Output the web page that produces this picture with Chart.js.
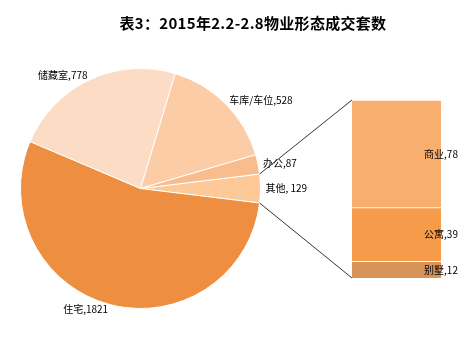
<!DOCTYPE html>
<html>
<head>
<meta charset="utf-8">
<script src="https://cdn.jsdelivr.net/npm/chart.js@4/dist/chart.umd.min.js"></script>
<style>
  body { margin: 0; background: #fff; }
  #wrap { position: relative; width: 475px; height: 342px; }
  #wrap canvas { position: absolute; left: 0; top: 0; }
  #title {
    position: absolute; left: 0; top: 12px; width: 506px; text-align: center;
    font: bold 15px "Noto Sans CJK SC", sans-serif; color: #000; letter-spacing: 0.3px;
  }
</style>
</head>
<body>
<div id="wrap">
  <canvas id="pieChart" width="475" height="342"></canvas>
  <canvas id="barChart" width="475" height="342"></canvas>
  <div id="title">表3：2015年2.2-2.8物业形态成交套数</div>
</div>
<script>
// main pie, clockwise starting from the "其他" slice
const pieLabels = ['其他', '住宅', '储藏室', '车库/车位', '办公'];
const pieValues = [129, 1821, 778, 528, 87];
const pieColors = ['#FDCA97', '#EE8E40', '#FCDCC4', '#FBCCA6', '#F9BC8C'];

// breakdown of "其他", bottom to top
const barLabels = ['别墅', '公寓', '商业'];
const barValues = [12, 39, 78];
const barColors = ['#D89359', '#F59B4A', '#F8AE6F'];

const labelFont = '10px "Noto Sans CJK SC", sans-serif';

const pieTotal = pieValues.reduce((a, b) => a + b, 0);
// center the first slice on the right side
const startRot = 90 - (pieValues[0] / pieTotal) * 180;

const pieLabelPlugin = {
    id: 'pieLabels',
    afterDatasetsDraw(chart) {
        const ctx = chart.ctx;
        const meta = chart.getDatasetMeta(0);
        ctx.save();
        ctx.font = labelFont;
        ctx.fillStyle = '#000';
        ctx.textBaseline = 'middle';
        meta.data.forEach((arc, i) => {
            const mid = (arc.startAngle + arc.endAngle) / 2;
            const r = arc.outerRadius + 5;
            const x = arc.x + Math.cos(mid) * r;
            const y = arc.y + Math.sin(mid) * r;
            ctx.textAlign = Math.cos(mid) >= 0 ? 'left' : 'right';
            const sep = pieLabels[i] === '其他' ? ', ' : ',';
            ctx.fillText(pieLabels[i] + sep + pieValues[i], x, y);
        });
        ctx.restore();
    }
};

const pieChart = new Chart(document.getElementById('pieChart'), {
    type: 'pie',
    data: {
        labels: pieLabels,
        datasets: [{
            data: pieValues,
            backgroundColor: pieColors,
            borderColor: '#fff',
            borderWidth: 1
        }]
    },
    options: {
        responsive: false,
        animation: false,
        rotation: startRot,
        layout: { padding: { left: 20, right: 214, top: 68, bottom: 33 } },
        plugins: {
            legend: { display: false },
            tooltip: { enabled: false }
        }
    },
    plugins: [pieLabelPlugin]
});

const barTotal = barValues.reduce((a, b) => a + b, 0);

const connectorPlugin = {
    id: 'connectors',
    afterDatasetsDraw(chart) {
        const ctx = chart.ctx;
        const arc = pieChart.getDatasetMeta(0).data[0];
        const area = chart.chartArea;
        const r = arc.outerRadius;
        ctx.save();
        // bar labels, centered on the right edge of the bar
        ctx.font = labelFont;
        ctx.fillStyle = '#000';
        ctx.textAlign = 'center';
        ctx.textBaseline = 'middle';
        barLabels.forEach((lab, i) => {
            const el = chart.getDatasetMeta(i).data[0];
            ctx.fillText(lab + ',' + barValues[i], area.right, (el.y + el.base) / 2);
        });
        // lines from the "其他" slice to the bar
        ctx.strokeStyle = '#333';
        ctx.lineWidth = 1;
        ctx.beginPath();
        ctx.moveTo(arc.x + Math.cos(arc.startAngle) * r, arc.y + Math.sin(arc.startAngle) * r);
        ctx.lineTo(area.left, area.top);
        ctx.moveTo(arc.x + Math.cos(arc.endAngle) * r, arc.y + Math.sin(arc.endAngle) * r);
        ctx.lineTo(area.left, area.bottom);
        ctx.stroke();
        ctx.restore();
    }
};

new Chart(document.getElementById('barChart'), {
    type: 'bar',
    data: {
        labels: ['其他'],
        datasets: barLabels.map((lab, i) => ({
            label: lab,
            data: [barValues[i]],
            backgroundColor: barColors[i],
            borderColor: '#fff',
            borderWidth: { top: 1 },
            barPercentage: 1,
            categoryPercentage: 1
        }))
    },
    options: {
        responsive: false,
        animation: false,
        layout: { padding: { left: 352, right: 34, top: 100, bottom: 64 } },
        scales: {
            x: { stacked: true, display: false },
            y: { stacked: true, display: false, min: 0, max: barTotal }
        },
        plugins: {
            legend: { display: false },
            tooltip: { enabled: false }
        }
    },
    plugins: [connectorPlugin]
});
</script>
</body>
</html>
